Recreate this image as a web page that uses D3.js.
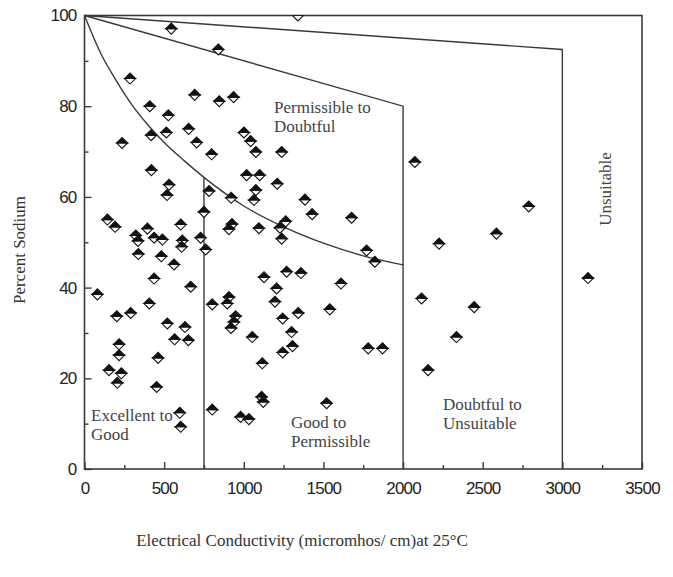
<!DOCTYPE html>
<html>
<head>
<meta charset="utf-8">
<script src="https://cdn.jsdelivr.net/npm/d3@7"></script>
<style>
  body { margin: 0; background: #fff; }
  svg { display: block; }
</style>
</head>
<body>
<div id="chart"></div>
<script>
// EC (micromhos/cm) and %Na for each sample
var ecValues = [545, 840, 286, 692, 846, 936, 410, 526, 236, 418, 514, 654, 704, 798, 1001, 1043, 1076, 420, 1018, 1100,
  531, 518, 782, 1076, 921, 1064, 1238, 2074, 1210, 1384, 1429, 1677, 1263, 1227, 1095, 750, 144, 192, 395, 604,
  322, 336, 437, 489, 614, 610, 729, 761, 926, 907, 338, 482, 562, 437, 667, 81, 407, 802, 907, 896,
  949, 938, 920, 203, 290, 520, 631, 1127, 1238, 1771, 1823, 1269, 1359, 1206, 1610, 1196, 1342, 1540, 1244, 1300,
  1053, 2789, 2586, 2226, 3161, 2116, 2446, 2335, 2157, 566, 652, 217, 217, 462, 154, 231, 206, 453, 598, 604,
  802, 1116, 1112, 1122, 980, 1032, 1306, 1244, 1781, 1871, 1520, 1340];
var naValues = [97.1, 92.5, 86.1, 82.5, 81.1, 82.0, 80.0, 78.0, 71.9, 73.6, 74.2, 75.0, 72.0, 69.4, 74.2, 72.3, 69.9, 65.9, 64.8, 64.8,
  62.7, 60.4, 61.3, 61.5, 59.8, 59.3, 69.9, 67.7, 62.9, 59.4, 56.2, 55.4, 54.6, 53.2, 53.1, 56.7, 55.0, 53.4, 53.0, 53.9,
  51.5, 50.3, 51.0, 50.6, 50.4, 49.0, 51.0, 48.4, 54.0, 52.9, 47.4, 46.9, 45.1, 42.0, 40.2, 38.5, 36.5, 36.3, 37.9, 36.5,
  33.7, 32.4, 31.1, 33.7, 34.4, 32.1, 31.3, 42.3, 50.8, 48.2, 45.7, 43.5, 43.2, 39.8, 40.9, 36.9, 34.4, 35.2, 33.2, 30.2,
  29.1, 57.9, 51.9, 49.7, 42.1, 37.6, 35.7, 29.1, 21.8, 28.6, 28.4, 27.5, 25.1, 24.5, 21.8, 21.1, 19.0, 18.1, 12.4, 9.3,
  13.1, 23.3, 15.9, 14.8, 11.5, 11.0, 27.1, 25.7, 26.6, 26.6, 14.5, 100];

// Wilcox class boundaries
var unsuitableLine = [[0, 100], [3000, 92.5], [3000, 0]];
var doubtfulLine = [[0, 100], [2000, 80], [2000, 0]];
var goodCurve = [[0, 100], [100, 91.8], [200, 85.6], [300, 80.2], [400, 75.8], [500, 72], [625, 68], [750, 64.3],
  [1000, 58], [1250, 53.4], [1500, 49.8], [1750, 47], [2000, 45]];
var excellentLine = [[750, 0], [750, 64.3]];

var xTicks = [0, 500, 1000, 1500, 2000, 2500, 3000, 3500];
var xMinor = [250, 750, 1250, 1750, 2250, 2750, 3250];
var yTicks = [0, 20, 40, 60, 80, 100];
var yMinor = [10, 30, 50, 70, 90];

var regionLabels = [
  {lines: ["Permissible to", "Doubtful"], x: 274, y: 113},
  {lines: ["Excellent to", "Good"], x: 91, y: 421},
  {lines: ["Good to", "Permissible"], x: 291, y: 428},
  {lines: ["Doubtful to", "Unsuitable"], x: 443, y: 410}
];

var width = 673, height = 577;
var svg = d3.select('#chart').append('svg').attr('width', width).attr('height', height);

var x = d3.scaleLinear().domain([0, 3500]).range([84.5, 642]);
var y = d3.scaleLinear().domain([0, 100]).range([469, 15.5]);

var lineColor = '#3a3a3a';

svg.append('clipPath').attr('id', 'plotclip')
  .append('rect')
  .attr('x', x(0)).attr('y', y(100))
  .attr('width', x(3500) - x(0)).attr('height', y(0) - y(100));

// boundaries
var line = d3.line().x(function(d) { return x(d[0]); }).y(function(d) { return y(d[1]); });
var curve = d3.line().curve(d3.curveMonotoneX).x(function(d) { return x(d[0]); }).y(function(d) { return y(d[1]); });

[unsuitableLine, doubtfulLine, excellentLine].forEach(function(pts) {
  svg.append('path').attr('d', line(pts))
    .attr('fill', 'none').attr('stroke', lineColor).attr('stroke-width', 1.4);
});
svg.append('path').attr('d', curve(goodCurve))
  .attr('fill', 'none').attr('stroke', lineColor).attr('stroke-width', 1.4);

// axes, ticks pointing inward
var gx = svg.append('g').attr('transform', 'translate(0,' + y(0) + ')')
  .call(d3.axisBottom(x).tickValues(xTicks).tickSize(-7).tickPadding(13).tickFormat(d3.format('d')));
svg.append('g').attr('transform', 'translate(0,' + y(0) + ')')
  .call(d3.axisBottom(x).tickValues(xMinor).tickSize(-4).tickFormat(''));
var gy = svg.append('g').attr('transform', 'translate(' + x(0) + ',0)')
  .call(d3.axisLeft(y).tickValues(yTicks).tickSize(-7).tickPadding(8).tickFormat(d3.format('d')));
svg.append('g').attr('transform', 'translate(' + x(0) + ',0)')
  .call(d3.axisLeft(y).tickValues(yMinor).tickSize(-4).tickFormat(''));

svg.selectAll('.domain').remove();
svg.selectAll('.tick line').attr('stroke', lineColor).attr('stroke-width', 1.4);
svg.selectAll('.tick text')
  .attr('fill', '#222')
  .style('font-family', '"Liberation Sans", Arial, sans-serif')
  .style('font-size', '17px')
  .style('letter-spacing', '-0.8px');

// frame
svg.append('rect')
  .attr('x', x(0)).attr('y', y(100))
  .attr('width', x(3500) - x(0)).attr('height', y(0) - y(100))
  .attr('fill', 'none').attr('stroke', lineColor).attr('stroke-width', 1.6);

// samples: half filled diamonds
var hw = 5.5, hh = 5.5;
var pts = svg.append('g').attr('clip-path', 'url(#plotclip)')
  .selectAll('g').data(ecValues.map(function(v, i) { return [v, naValues[i]]; }))
  .enter().append('g')
  .attr('transform', function(d) { return 'translate(' + x(d[0]) + ',' + y(d[1]) + ')'; });
pts.append('path')
  .attr('d', 'M' + (-hw) + ',0L0,' + hh + 'L' + hw + ',0Z')
  .attr('fill', '#fff').attr('stroke', '#111').attr('stroke-width', 1.1);
pts.append('path')
  .attr('d', 'M' + (-hw) + ',0L0,' + (-hh) + 'L' + hw + ',0Z')
  .attr('fill', '#111').attr('stroke', '#111').attr('stroke-width', 1.1);

// region names
var serif = '"Liberation Serif", "Times New Roman", serif';
regionLabels.forEach(function(r) {
  var t = svg.append('text').attr('x', r.x).attr('y', r.y)
    .attr('fill', '#444').style('font-family', serif).style('font-size', '17px');
  r.lines.forEach(function(s, i) {
    t.append('tspan').attr('x', r.x).attr('dy', i === 0 ? 0 : 19).text(s);
  });
});
svg.append('text')
  .attr('transform', 'translate(611,189) rotate(-90)')
  .attr('text-anchor', 'middle')
  .attr('fill', '#444').style('font-family', serif).style('font-size', '17px')
  .text('Unsuitable');

// axis titles
svg.append('text')
  .attr('transform', 'translate(25,250) rotate(-90)')
  .attr('text-anchor', 'middle')
  .attr('fill', '#333').style('font-family', serif).style('font-size', '17px')
  .text('Percent Sodium');
svg.append('text')
  .attr('x', 302).attr('y', 546)
  .attr('text-anchor', 'middle')
  .attr('fill', '#333').style('font-family', serif).style('font-size', '17px')
  .text('Electrical Conductivity (micromhos/ cm)at 25°C');
</script>
</body>
</html>
